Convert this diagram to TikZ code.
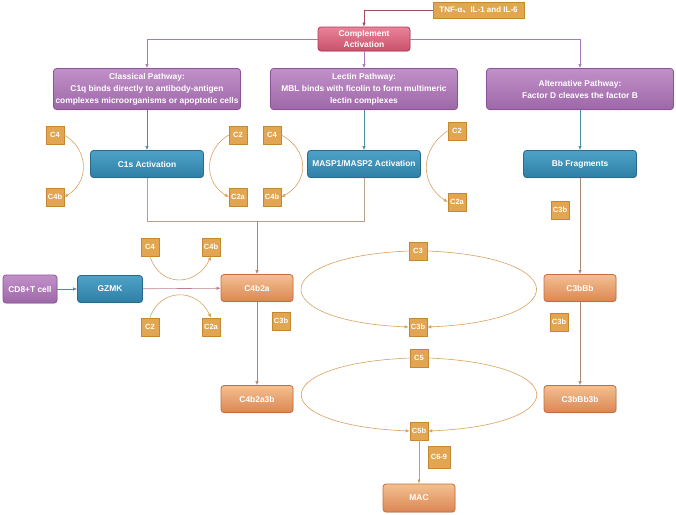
\documentclass[tikz,border=0pt]{standalone}
\usepackage{fontspec}
\setsansfont{Liberation Sans}
\newfontfamily\cjk{Noto Sans CJK SC}
\usetikzlibrary{arrows.meta,shadows}
\definecolor{pathtop}{HTML}{C290C8}
\definecolor{pathbot}{HTML}{9C68A8}
\definecolor{pathline}{HTML}{8C5498}
\definecolor{comptop}{HTML}{E8849A}
\definecolor{compbot}{HTML}{C9506A}
\definecolor{compline}{HTML}{B03A58}
\definecolor{bluetop}{HTML}{4DA2C8}
\definecolor{bluebot}{HTML}{2F7FA5}
\definecolor{blueline}{HTML}{2A6A8A}
\definecolor{orgtop}{HTML}{F3C090}
\definecolor{orgbot}{HTML}{DC8654}
\definecolor{orgline}{HTML}{C46E3E}
\definecolor{sqfill}{HTML}{E2A552}
\definecolor{sqline}{HTML}{C5872F}
\definecolor{arcline}{HTML}{D8A060}
\definecolor{brownline}{HTML}{A88870}
\definecolor{tealline}{HTML}{4A8FA0}
\definecolor{violetline}{HTML}{A87AB8}
\definecolor{redline}{HTML}{A04A5A}
\tikzset{
  box/.style={rounded corners=3pt, draw, line width=0.8pt, text=white, align=center, inner sep=0pt,
    font=\sffamily\bfseries\fontsize{8.4}{12}\selectfont,
    drop shadow={shadow xshift=0.6pt, shadow yshift=-0.8pt, opacity=0.2}},
  pathbox/.style={box, minimum width=187pt, minimum height=41pt, top color=pathtop, bottom color=pathbot, draw=pathline},
  compbox/.style={box, minimum width=92pt, minimum height=24pt, top color=comptop, bottom color=compbot, draw=compline,
    font=\sffamily\bfseries\fontsize{8.4}{11}\selectfont},
  bluebox/.style={box, minimum width=113pt, minimum height=27pt, top color=bluetop, bottom color=bluebot, draw=blueline},
  orgbox/.style={box, minimum width=72pt, minimum height=27pt, top color=orgtop, bottom color=orgbot, draw=orgline},
  sqbox/.style={draw=sqline, fill=sqfill, line width=0.6pt, text=white, inner sep=0pt, minimum size=18pt,
    font=\sffamily\bfseries\fontsize{7.5}{8}\selectfont},
  arc/.style={draw=arcline, line width=0.6pt, -{Latex[length=4pt,width=3.5pt]}},
  link/.style={line width=0.6pt, -{Latex[length=4pt,width=3.5pt]}}
}
\begin{document}
\begin{tikzpicture}[x=1pt,y=-1pt]
\useasboundingbox (0,0) rectangle (676,514);

\node[sqbox, minimum width=91pt, minimum height=16pt, font=\sffamily\bfseries\fontsize{8}{9}\selectfont] (tnf) at (478.5,10) {TNF-α{\cjk 、}IL-1 and IL-6};
\node[compbox] (comp) at (364,39) {Complement\\Activation};

\node[pathbox] (classical) at (147,89) {Classical Pathway:\\C1q binds directly to antibody-antigen\\complexes microorganisms or apoptotic cells};
\node[pathbox] (lectin) at (364,89) {Lectin Pathway:\\MBL binds with ficolin to form multimeric\\lectin complexes};
\node[pathbox] (alt) at (580,89) {Alternative Pathway:\\Factor D cleaves the factor B};

\node[bluebox] (c1s) at (147,164) {C1s Activation};
\node[bluebox] (masp) at (364,164) {MASP1/MASP2 Activation};
\node[bluebox] (bb) at (580,164) {Bb Fragments};

\node[sqbox] (c4a) at (55,135) {C4};
\node[sqbox] (c4ba) at (55,197) {C4b};
\node[sqbox] (c2a) at (238,135) {C2};
\node[sqbox] (c2aa) at (238,197) {C2a};
\node[sqbox] (c4b) at (272,135) {C4};
\node[sqbox] (c4bb) at (272,197) {C4b};
\node[sqbox] (c2b) at (457,131) {C2};
\node[sqbox] (c2ab) at (457,202) {C2a};
\node[sqbox] (c3ba) at (560,210) {C3b};

\node[box, minimum width=54pt, minimum height=28pt, top color=pathtop, bottom color=pathbot, draw=pathline] (cd8) at (30,289) {CD8+T cell};
\node[bluebox, minimum width=65pt] (gzmk) at (110,289) {GZMK};
\node[orgbox] (c4b2a) at (257,288) {C4b2a};
\node[orgbox] (c3bbb) at (580,288) {C3bBb};

\node[sqbox] (c4c) at (150,247) {C4};
\node[sqbox] (c4bc) at (211,247) {C4b};
\node[sqbox] (c2c) at (150,327) {C2};
\node[sqbox] (c2ac) at (211,327) {C2a};
\node[sqbox] (c3bb) at (281,321) {C3b};
\node[sqbox] (c3) at (418,251) {C3};
\node[sqbox] (c3bc) at (418,327) {C3b};
\node[sqbox] (c3bd) at (559,322) {C3b};

\node[orgbox] (c4b2a3b) at (257,399) {C4b2a3b};
\node[orgbox] (c3bbb3b) at (580,399) {C3bBb3b};
\node[sqbox] (c5) at (419,358) {C5};
\node[sqbox] (c5b) at (419,431) {C5b};
\node[sqbox, minimum size=22pt] (c69) at (439,457) {C6-9};
\node[orgbox, minimum height=28pt] (mac) at (419,498) {MAC};

\draw[link, draw=redline] (tnf.west) -| (comp.north);
\draw[link, draw=violetline] (comp.west) -| (classical.north);
\draw[link, draw=violetline] (comp.east) -| (alt.north);
\draw[link, draw=violetline] (comp.south) -- (lectin.north);

\draw[link, draw=tealline] (classical.south) -- (c1s.north);
\draw[link, draw=tealline] (lectin.south) -- (masp.north);
\draw[link, draw=tealline] (alt.south) -- (bb.north);

\coordinate (join) at (257,221);
\draw[line width=0.6pt, draw=brownline!80] (c1s.south) |- (masp.south |- join) -- (masp.south);
\draw[link, draw=brownline] (join) -- (c4b2a.north);
\draw[link, draw=brownline] (bb.south) -- (c3bbb.north);

\draw[arc] (c4a.east) .. controls +(25,15) and +(25,-15) .. (c4ba.east);
\draw[arc] (c2a.west) .. controls +(-25,15) and +(-25,-15) .. (c2aa.west);
\draw[arc] (c4b.east) .. controls +(28,15) and +(28,-15) .. (c4bb.east);
\draw[arc] (c2b.west) .. controls +(-28,18) and +(-28,-18) .. (c2ab.west);

\draw[link, draw=tealline] (cd8) -- (gzmk);
\draw[link, draw=redline!70] (gzmk) -- (c4b2a);
\draw[arc] (c4c.south) .. controls +(10,32) and +(-14,30) .. (c4bc.south);
\draw[arc] (c2c.north) .. controls +(10,-30) and +(-14,-30) .. (c2ac.north);

\draw[arc] (c3.west) .. controls +(-143,6) and +(-143,-6) .. (c3bc.west);
\draw[arc] (c3.east) .. controls +(145,6) and +(145,-6) .. (c3bc.east);
\draw[arc] (c5.west) .. controls +(-144,6) and +(-144,-6) .. (c5b.west);
\draw[arc] (c5.east) .. controls +(144,6) and +(144,-6) .. (c5b.east);

\draw[link, draw=brownline] (c4b2a) -- (c4b2a3b);
\draw[link, draw=brownline] (c3bbb) -- (c3bbb3b);
\draw[link, draw=arcline!80!brownline] (c5b) -- (mac);
\end{tikzpicture}
\end{document}
